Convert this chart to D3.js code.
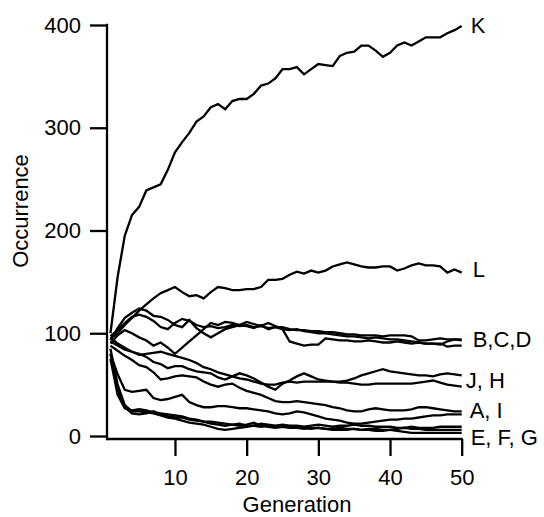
<!DOCTYPE html>
<html>
<head>
<meta charset="utf-8">
<script src="https://cdn.jsdelivr.net/npm/d3@7"></script>
<style>
  html, body { margin: 0; padding: 0; background: #fff; }
  svg { display: block; }
  text { font-family: "Liberation Sans", Arial, Helvetica, sans-serif; fill: #000; }
</style>
</head>
<body>
<svg id="chart" width="544" height="517"></svg>
<script>
// ---- data ----
const generations = d3.range(1, 51);
const seriesNames = ["A","B","C","D","E","F","G","H","I","J","K","L"];
const A = [80,60,45,43,44,45,37,35,36,38,40,33,30,28,28,29,29,28,27,27,26,25,24,22,21,22,24,23,21,19,17,16,15,13,12,12,13,14,15,16,16,17,17,18,19,20,20,21,21,21];
const B = [93,105,115,120,124,122,117,116,113,108,106,113,105,100,96,100,104,106,108,107,105,108,104,106,104,103,104,102,101,100,100,99,98,97,97,96,95,96,95,94,94,93,92,91,90,90,89,92,94,93];
const C = [90,98,103,100,96,93,88,91,86,80,86,92,98,104,110,108,111,110,108,111,109,107,110,107,104,92,90,88,89,89,95,94,93,93,92,92,93,92,91,91,92,91,90,91,90,90,90,87,88,88];
const D = [97,103,110,116,118,116,112,106,104,110,114,112,108,106,107,105,106,108,107,108,106,107,105,106,106,104,103,103,102,102,101,101,100,99,99,98,98,98,97,98,98,98,97,93,93,94,95,94,94,94];
const E = [85,50,30,24,24,23,22,20,18,17,15,13,12,11,9,7,6,7,8,9,10,9,10,9,9,9,8,8,7,8,7,7,8,7,7,6,7,7,6,6,5,4,3,3,3,3,3,3,3,3];
const F = [80,45,28,22,21,22,24,21,19,18,18,16,15,14,12,11,10,11,12,10,10,12,11,10,11,10,10,9,10,11,10,9,10,10,11,10,10,9,9,9,8,8,9,8,8,8,9,9,9,9];
const G = [75,40,27,25,26,25,23,22,21,20,19,17,16,14,14,13,12,11,10,11,13,10,9,8,9,8,8,7,8,8,7,6,6,6,7,6,6,5,5,6,7,8,7,7,6,6,6,6,6,6];
const H = [96,90,86,82,79,80,81,82,80,78,76,74,71,67,65,62,60,58,56,55,53,51,50,50,52,53,52,53,53,53,53,53,52,52,51,50,50,51,51,51,51,51,51,52,53,54,52,50,49,48];
const I = [88,83,78,74,69,67,62,55,56,58,59,58,57,53,50,48,50,51,47,44,42,40,37,34,33,33,34,33,32,31,30,28,27,25,24,24,26,27,26,25,25,25,26,28,28,27,26,25,24,24];
const J = [92,88,84,82,80,77,72,70,66,68,68,65,63,62,61,57,55,58,61,59,56,52,48,45,51,54,58,61,58,55,54,53,53,54,56,59,61,63,65,63,62,61,60,59,59,58,60,61,60,59];
const K = [100,155,195,215,223,239,242,245,259,276,286,295,306,311,320,323,318,326,328,328,333,341,343,348,357,357,359,352,357,362,361,360,370,373,374,380,380,375,369,373,380,383,380,384,388,388,388,392,395,399];
const L = [95,100,108,115,122,128,134,139,142,145,140,136,137,134,140,145,144,142,142,143,143,145,152,152,153,157,160,158,161,159,161,165,167,169,167,165,164,164,165,165,161,163,166,168,166,166,165,159,162,159];
const seriesValues = [A,B,C,D,E,F,G,H,I,J,K,L];
const groupLabels = ["K","L","B,C,D","J, H","A, I","E, F, G"];
const groupLabelValues = [400,162,94,54,25,-1];
const xTicks = [10,20,30,40,50];
const yTicks = [0,100,200,300,400];

// ---- layout ----
const svg = d3.select("#chart");
const x = d3.scaleLinear().domain([0, 50]).range([103.3, 461.7]);
const y = d3.scaleLinear().domain([0, 400]).range([436, 25]);
const axisX0 = 107, axisY0 = 439;
const FONT = 22;
const STROKE = 2.3;
const labelDx = [9, 11, 11, 4, 8, 9];

// lines
const line = d3.line().x((d, i) => x(generations[i])).y(d => y(d));
svg.append("g").selectAll("path").data(seriesValues).join("path")
  .attr("d", d => line(d))
  .attr("fill", "none").attr("stroke", "#000").attr("stroke-width", STROKE)
  .attr("stroke-linejoin", "miter");

// y axis
const yAxis = d3.axisLeft(y).tickValues(yTicks).tickSize(17).tickPadding(9).tickSizeOuter(0);
const gy = svg.append("g").attr("transform", `translate(${axisX0},0)`).call(yAxis);
gy.select(".domain").remove();
gy.selectAll(".tick line").attr("stroke", "#000").attr("stroke-width", STROKE);
gy.selectAll(".tick text").attr("font-size", FONT).attr("font-family", null);
svg.append("line").attr("x1", axisX0).attr("x2", axisX0).attr("y1", y(400) - 1.15).attr("y2", axisY0 + 1.15)
  .attr("stroke", "#000").attr("stroke-width", STROKE);

// x axis
const xAxis = d3.axisBottom(x).tickValues(xTicks).tickSize(17).tickPadding(13).tickSizeOuter(0);
const gx = svg.append("g").attr("transform", `translate(0,${axisY0})`).call(xAxis);
gx.select(".domain").remove();
gx.selectAll(".tick line").attr("stroke", "#000").attr("stroke-width", STROKE);
gx.selectAll(".tick text").attr("font-size", FONT).attr("font-family", null);
svg.append("line").attr("x1", axisX0).attr("x2", x(50) + 1.15).attr("y1", axisY0).attr("y2", axisY0)
  .attr("stroke", "#000").attr("stroke-width", STROKE);

// axis titles
svg.append("text").attr("transform", "translate(28,211) rotate(-90)")
  .attr("text-anchor", "middle").attr("font-size", FONT).text("Occurrence");
svg.append("text").attr("x", 297).attr("y", 512)
  .attr("text-anchor", "middle").attr("font-size", FONT).text("Generation");

// group labels
svg.append("g").selectAll("text").data(groupLabels).join("text")
  .attr("x", (d, i) => x(50) + labelDx[i])
  .attr("y", (d, i) => y(groupLabelValues[i]))
  .attr("dy", "0.35em").attr("font-size", FONT).text(d => d);
</script>
</body>
</html>
